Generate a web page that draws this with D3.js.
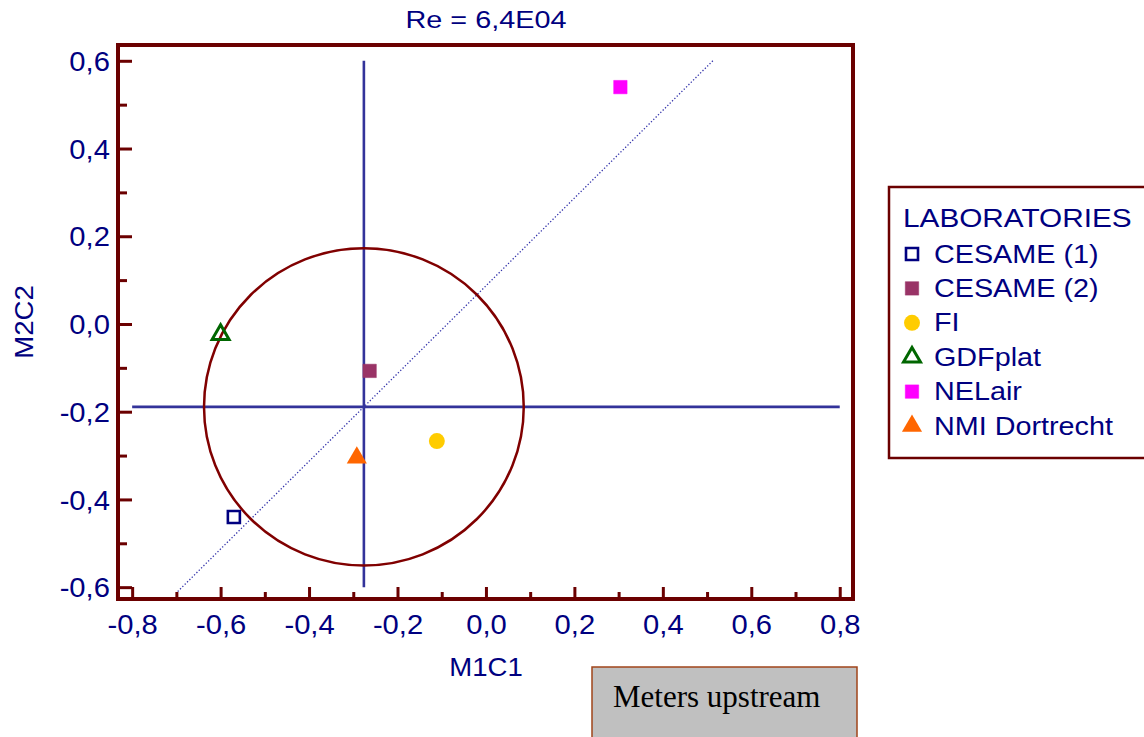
<!DOCTYPE html>
<html>
<head>
	<title> Re = 6,4E04 </title>
	<script src="https://d3js.org/d3.v7.min.js"></script>
	<style>
		body { margin: 0; background: #fff; }
		text { font-family: "Liberation Sans", Arial, sans-serif; }
	</style>
</head>
<body>
	<svg width="1144" height="737"></svg>
	<script type="text/javascript">
		// data
		let labs = ["CESAME (1)", "CESAME (2)", "FI", "GDFplat", "NELair", "NMI Dortrecht"];
		let m1c1 = [-0.570, -0.263, -0.111, -0.600, 0.304, -0.292];
		let m2c2 = [-0.440, -0.107, -0.267, -0.024, 0.540, -0.305];
		let shapes = ["openSquare", "square", "circle", "openTriangle", "square", "triangle"];
		let colors = ["#000080", "#993366", "#ffcc00", "#006600", "#ff00ff", "#ff6600"];
		let xTicks = [-0.8, -0.6, -0.4, -0.2, 0.0, 0.2, 0.4, 0.6, 0.8];
		let xMinor = [-0.7, -0.5, -0.3, -0.1, 0.1, 0.3, 0.5, 0.7];
		let yTicks = [-0.6, -0.4, -0.2, 0.0, 0.2, 0.4, 0.6];
		let yMinor = [-0.5, -0.3, -0.1, 0.1, 0.3, 0.5];
		// reference cross, circle and diagonal
		let centre = [-0.276, -0.189];
		let radius = 0.3615;
		let crossX = [-0.8, 0.8];
		let crossY = [-0.6, 0.6];
		let diagX = [-0.697, 0.513];
		let diagOffset = 0.087;

		let svg = d3.select("svg");
		let frameCol = "#6b0000";
		let navy = "#000080";
		let x = d3.scaleLinear().domain([-0.832, 0.83]).range([118, 853]);
		let y = d3.scaleLinear().domain([-0.627, 0.636]).range([599, 45]);
		let fmt = d => d3.format(".1f")(d).replace(".", ",").replace("−", "-");

		// text a bit wider than the font draws it
		function wideText(px, py, str, size, sx, anchor)
		{
			return svg.append("text")
				.attr("transform", "translate(" + px + "," + py + ") scale(" + sx + ",1)")
				.attr("text-anchor", anchor || "start")
				.attr("fill", navy).style("font-size", size + "px").text(str);
		}

		// axes, ticks pointing inward
		let gx = svg.append("g").attr("transform", "translate(0,599)")
			.call(d3.axisBottom(x).tickValues(xTicks).tickSize(-12).tickPadding(14).tickFormat(fmt));
		let gxm = svg.append("g").attr("transform", "translate(0,599)")
			.call(d3.axisBottom(x).tickValues(xMinor).tickSize(-7).tickFormat(""));
		let gy = svg.append("g").attr("transform", "translate(118,0)")
			.call(d3.axisLeft(y).tickValues(yTicks).tickSize(-14).tickPadding(8).tickFormat(fmt));
		let gym = svg.append("g").attr("transform", "translate(118,0)")
			.call(d3.axisLeft(y).tickValues(yMinor).tickSize(-9).tickFormat(""));
		[gx, gxm, gy, gym].forEach(g => {
			g.select(".domain").remove();
			g.selectAll("line").attr("stroke", frameCol).attr("stroke-width", 3);
			g.selectAll("text").attr("fill", navy).style("font-size", "27px")
				.style("font-family", "'Liberation Sans', Arial, sans-serif")
				.attr("transform", "scale(1.08,1)");
		});
		gx.selectAll("text").attr("dy", "0.71em").attr("y", 16);
		gy.selectAll("text").attr("dy", "0.36em").attr("x", -7.5);

		// crosshair
		svg.append("line")
			.attr("x1", x(crossX[0])).attr("x2", x(crossX[1]))
			.attr("y1", y(centre[1])).attr("y2", y(centre[1]))
			.attr("stroke", "#33339a").attr("stroke-width", 2.6);
		svg.append("line")
			.attr("x1", x(centre[0])).attr("x2", x(centre[0]))
			.attr("y1", y(crossY[0])).attr("y2", y(crossY[1]))
			.attr("stroke", "#33339a").attr("stroke-width", 2.6);

		// diagonal y = x + offset
		svg.append("path")
			.datum(diagX)
			.attr("fill", "none")
			.attr("stroke", "#3333aa")
			.attr("stroke-width", 1.3)
			.attr("stroke-dasharray", "1.3,2")
			.attr("d", d3.line().x(d => x(d)).y(d => y(d + diagOffset)));

		// circle
		svg.append("ellipse")
			.attr("cx", x(centre[0])).attr("cy", y(centre[1]))
			.attr("rx", x(centre[0] + radius) - x(centre[0]))
			.attr("ry", y(centre[1]) - y(centre[1] + radius))
			.attr("fill", "none").attr("stroke", "#800000").attr("stroke-width", 2.5);

		// frame
		svg.append("rect")
			.attr("x", x.range()[0]).attr("y", y.range()[1])
			.attr("width", x.range()[1] - x.range()[0])
			.attr("height", y.range()[0] - y.range()[1])
			.attr("fill", "none").attr("stroke", frameCol).attr("stroke-width", 4);

		function marker(sel, shape, col)
		{
			if (shape == "openSquare") {
				sel.attr("d", d3.symbol(d3.symbolSquare, 144)()).attr("fill", "none")
					.attr("stroke", col).attr("stroke-width", 2.6);
			} else if (shape == "square") {
				sel.attr("d", d3.symbol(d3.symbolSquare, 180)()).attr("fill", col)
					.attr("stroke", col).attr("stroke-width", 0.5).attr("stroke-linejoin", "round");
			} else if (shape == "circle") {
				sel.attr("d", d3.symbol(d3.symbolCircle, 200)()).attr("fill", col);
			} else if (shape == "openTriangle") {
				sel.attr("d", d3.symbol(d3.symbolTriangle, 125)()).attr("fill", "none")
					.attr("stroke", col).attr("stroke-width", 3);
			} else {
				sel.attr("d", d3.symbol(d3.symbolTriangle, 175)()).attr("fill", col);
			}
		}

		// points
		labs.forEach((l, i) => {
			svg.append("path")
				.attr("transform", "translate(" + x(m1c1[i]) + "," + y(m2c2[i]) + ")")
				.call(marker, shapes[i], colors[i]);
		});

		// title and axis titles
		wideText(486, 28, "Re = 6,4E04", 24, 1.2, "middle");
		wideText(486, 676, "M1C1", 26, 1.06, "middle");
		svg.append("text").attr("transform", "translate(33,322) rotate(-90) scale(1.06,1)")
			.attr("text-anchor", "middle")
			.attr("fill", navy).style("font-size", "26px").text("M2C2");

		// legend
		svg.append("rect").attr("x", 889).attr("y", 187).attr("width", 270).attr("height", 271)
			.attr("fill", "#fff").attr("stroke", frameCol).attr("stroke-width", 2.5);
		wideText(903, 227, "LABORATORIES", 25, 1.19);
		labs.forEach((l, i) => {
			let cy = 254 + i * 34.4;
			svg.append("path")
				.attr("transform", "translate(912," + cy + ")")
				.call(marker, shapes[i], colors[i]);
			wideText(934, cy + 8.5, l, 25, 1.15);
		});

		// note box
		svg.append("rect").attr("x", 592).attr("y", 667).attr("width", 265).attr("height", 90)
			.attr("fill", "#c0c0c0").attr("stroke", "#a0441a").attr("stroke-width", 1.5);
		svg.append("text").attr("x", 613).attr("y", 707).attr("fill", "#000")
			.style("font-family", "'Liberation Serif', 'Times New Roman', serif")
			.style("font-size", "31px").text("Meters upstream");
	</script>
</body>
</html>
